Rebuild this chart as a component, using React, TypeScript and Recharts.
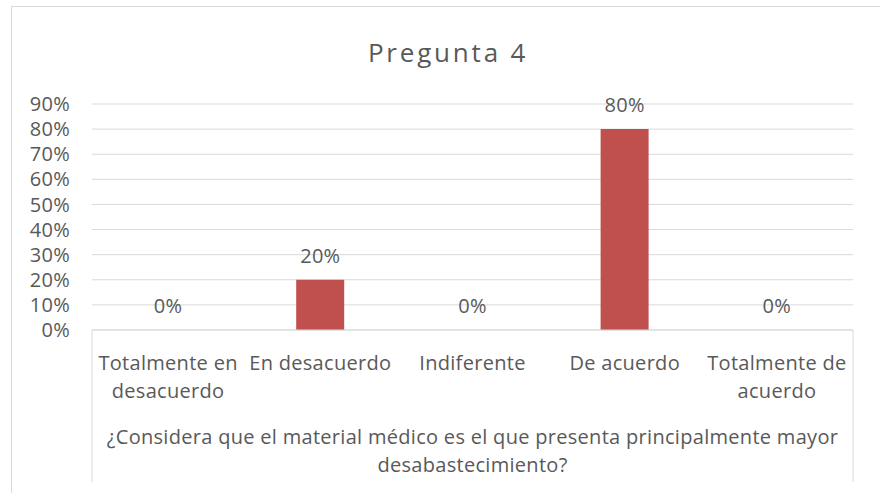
import React from "react";
import { ComposedChart, Bar, Line, XAxis, YAxis, CartesianGrid, LabelList } from "recharts";

const categories = [
  "Totalmente en\ndesacuerdo",
  "En desacuerdo",
  "Indiferente",
  "De acuerdo",
  "Totalmente de\nacuerdo",
];
const values = [0, 0.2, 0, 0.8, 0];
const yTicks = [0, 0.1, 0.2, 0.3, 0.4, 0.5, 0.6, 0.7, 0.8, 0.9];
const chartTitle = "Pregunta 4";
const axisTitle = [
  "¿Considera que el material médico es el que presenta principalmente mayor",
  "desabastecimiento?",
];

const data = categories.map((name, i) => ({ name, value: values[i] }));

const FONT = "'Open Sans', Lato, sans-serif";
const TEXT = "#595959";
const LINE = "#d9d9d9";
const SIZE = 20;
const SPACING = 0.3;
const pct = (v: number) => `${Math.round(v * 100)}%`;

function CategoryTick(props: any) {
  const { x, y, payload } = props;
  const lines = String(payload.value).split("\n");
  return (
    <g>
      {lines.map((l, i) => (
        <text
          key={i}
          x={x}
          y={y + 32 + i * 28}
          textAnchor="middle"
          fill={TEXT}
          fontSize={SIZE}
          letterSpacing={SPACING}
          fontFamily={FONT}
        >
          {l}
        </text>
      ))}
    </g>
  );
}

function AxisBox(props: any) {
  const { x, y, width, height } = props.viewBox;
  const cx = x + width / 2;
  return (
    <g>
      <line x1={x} y1={y} x2={x} y2={y + height} stroke={LINE} />
      <line x1={x + width} y1={y} x2={x + width} y2={y + height} stroke={LINE} />
      {axisTitle.map((l, i) => (
        <text
          key={i}
          x={cx}
          y={y + 114 + i * 28}
          textAnchor="middle"
          fill={TEXT}
          fontSize={SIZE}
          letterSpacing={SPACING}
          fontFamily={FONT}
        >
          {l}
        </text>
      ))}
    </g>
  );
}

function ValueLabel(props: any) {
  const { x, y, value } = props;
  return (
    <text
      x={x}
      y={y - 17}
      textAnchor="middle"
      fill={TEXT}
      fontSize={SIZE}
      letterSpacing={SPACING}
      fontFamily={FONT}
    >
      {pct(value)}
    </text>
  );
}

export default function App() {
  return (
    <div style={{ position: "absolute", left: 0, top: 0, width: 880, height: 493, background: "#fff", overflow: "hidden" }}>
      <div
        style={{
          position: "absolute",
          left: 11,
          top: 6,
          width: 900,
          height: 500,
          border: `1px solid ${LINE}`,
          boxSizing: "border-box",
        }}
      />
      <svg style={{ position: "absolute", left: 0, top: 0 }} width={880} height={80}>
        <text
          x={448}
          y={62}
          textAnchor="middle"
          fill={TEXT}
          fontSize={26}
          letterSpacing={2.8}
          fontFamily={FONT}
        >
          {chartTitle}
        </text>
      </svg>
      <ComposedChart
        width={880}
        height={493}
        data={data}
        margin={{ top: 104, right: 27, bottom: 11, left: 12 }}
        style={{ position: "absolute", left: 0, top: 0 }}
      >
        <CartesianGrid vertical={false} stroke={LINE} />
        <YAxis
          domain={[0, 0.9]}
          ticks={yTicks}
          interval={0}
          tickFormatter={pct}
          axisLine={false}
          tickLine={false}
          tickSize={0}
          tickMargin={22}
          width={80}
          tick={{ fill: TEXT, fontSize: SIZE, fontFamily: FONT, letterSpacing: SPACING }}
        />
        <XAxis
          dataKey="name"
          height={152}
          axisLine={{ stroke: LINE }}
          tickLine={false}
          interval={0}
          tick={<CategoryTick />}
          label={{ content: AxisBox }}
        />
        <Bar dataKey="value" fill="#C0504D" barSize={48} isAnimationActive={false} />
        <Line
          dataKey="value"
          stroke="none"
          dot={false}
          activeDot={false}
          legendType="none"
          isAnimationActive={false}
        >
          <LabelList dataKey="value" content={ValueLabel} />
        </Line>
      </ComposedChart>
    </div>
  );
}
